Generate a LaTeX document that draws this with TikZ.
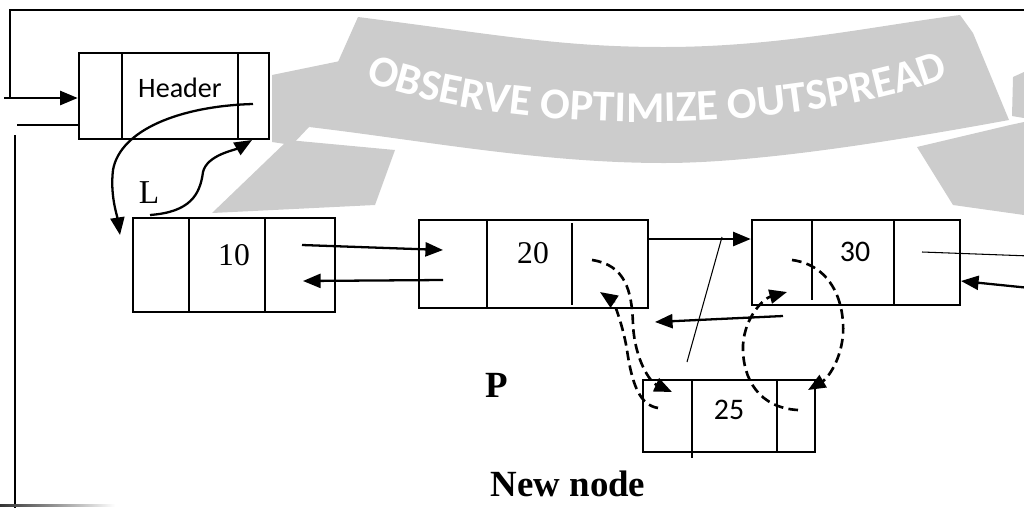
\documentclass[tikz,border=0pt]{standalone}
\usepackage{fontspec}
\setmainfont{Liberation Serif}
\newfontfamily\calib{Carlito}
\usetikzlibrary{arrows.meta,decorations.text}
\definecolor{wmgray}{HTML}{CCCCCC}

\begin{document}
\begin{tikzpicture}[x=0.02cm, y=-0.02cm, >={Triangle[length=10pt,width=8pt]},
  box/.style={draw, line width=1.5pt, fill=white, inner sep=0pt},
  div/.style={line width=0.6pt},
  ptr/.style={->, line width=1.3pt},
  dptr/.style={->, line width=1.5pt, dash pattern=on 5.5pt off 3pt},
  thinln/.style={line width=0.6pt},
  num/.style={font=\fontsize{18}{18}\selectfont},
  snum/.style={font=\calib\fontsize{17}{17}\selectfont},
  lbl/.style={font=\bfseries\fontsize{21}{21}\selectfont}]
  \useasboundingbox (0,0) rectangle (1024,508);

  % watermark banner
  \fill[wmgray] (272,75) -- (345,60) -- (309,127) -- (292,145) -- (272,142) -- cycle;
  \fill[wmgray] (288,140) -- (395,150) -- (375,205) -- (212,213) -- cycle;
  \fill[wmgray] (917,147) -- (1010,125) -- (1024,122) -- (1024,215) -- (953,205) -- cycle;
  \fill[wmgray] (1013,77) -- (1024,72) -- (1024,118) -- (1012,116) -- cycle;
  \fill[wmgray] (358,17) .. controls (500,35) and (560,47) .. (664,47)
    .. controls (780,47) and (880,25) .. (960,15) -- (973,33) -- (1009,120)
    .. controls (900,140) and (760,163) .. (664,163)
    .. controls (540,163) and (420,140) .. (309,127) -- cycle;
  \path[decorate, decoration={text along path, text align=center, text color=white,
    text={|\calib\bfseries\fontsize{25}{25}\selectfont|OBSERVE OPTIMIZE OUTSPREAD}}]
    (352,76) .. controls (500,138) and (800,138) .. (962,72);

  % nodes
  \node[box, minimum width=3.8cm, minimum height=1.72cm] (hdr) at (174,96) {};
  \draw[div] (122,53) -- (122,139);
  \draw[div] (238,53) -- (238,139);
  \node[font=\calib\fontsize{16}{16}\selectfont] (hdrtxt) at (180,88) {Header};

  \node[box, minimum width=4.04cm, minimum height=1.88cm] (b10) at (234,265) {};
  \draw[div] (189,218) -- (189,312);
  \draw[div] (265,218) -- (265,312);
  \node[num] (v10) at (234,255) {10};

  \node[box, minimum width=4.58cm, minimum height=1.76cm] (b20) at (533.5,264) {};
  \draw[div] (487,220) -- (487,308);
  \draw[div] (572,223) -- (572,305);
  \node[num] (v20) at (533,253) {20};

  \node[box, minimum width=4.16cm, minimum height=1.7cm] (b30) at (856,262.5) {};
  \draw[div] (812,220) -- (812,300);
  \draw[div] (894,220) -- (894,305);
  \node[snum] (v30) at (855,252) {30};

  \node[box, minimum width=3.44cm, minimum height=1.44cm] (b25) at (729,416) {};
  \draw[div] (692,380) -- (692,458);
  \draw[div] (777,380) -- (777,452);
  \node[snum] (v25) at (729,410) {25};

  % outer frame
  \coordinate (tl) at (10,10);
  \coordinate (tr) at (1024,10);
  \coordinate (lf) at (10,98);
  \coordinate (in) at (4,98);
  \draw[thinln] (tr) -- (tl) -- (lf);
  \draw[ptr] (in) -- (hdr.west |- in);
  \coordinate (ret) at (17,125);
  \draw[thinln] (ret) -- (ret -| hdr.west);
  \coordinate (lt) at (15,135);
  \coordinate (lb) at (15,508);
  \draw[thinln] (lt) -- (lb);
  \shade[left color=black!80, right color=white] (0,504) rectangle (115,506);

  % header links
  \coordinate (hn) at (253,104);
  \coordinate (l10) at (120,235);
  \draw[ptr] (hn) .. controls (180,106) and (120,130) .. (113,170)
    .. controls (110,195) and (117,215) .. (l10);
  \coordinate (lfrom) at (150,215);
  \coordinate (hp) at (252,140);
  \draw[ptr] (lfrom) .. controls (190,212) and (200,195) .. (203,172)
    .. controls (207,155) and (235,150) .. (hp);
  \node[font=\fontsize{19}{19}\selectfont] (lname) at (149,193) {L};

  % old links
  \coordinate (n10) at (302,245);
  \coordinate (p20) at (443,250);
  \draw[ptr] (n10) -- (p20);
  \coordinate (p20b) at (443,280);
  \coordinate (n10b) at (303,281);
  \draw[ptr] (p20b) -- (n10b);
  \coordinate (n20) at (649,239);
  \draw[ptr] (n20) -- (b30.west |- n20);
  \coordinate (p30) at (783,316);
  \coordinate (n20b) at (655,322);
  \draw[ptr] (p30) -- (n20b);
  \coordinate (xa) at (722,237);
  \coordinate (xb) at (687,362);
  \draw[thinln] (xa) -- (xb);
  \coordinate (n30) at (922,252);
  \coordinate (re) at (1030,256);
  \draw[thinln] (n30) -- (re);
  \coordinate (ri) at (1030,288);
  \coordinate (n30in) at (961,281);
  \draw[ptr] (ri) -- (n30in);

  % new links
  \coordinate (d1a) at (592,260);
  \coordinate (d1b) at (672,392);
  \draw[dptr] (d1a) .. controls (625,265) and (632,290) .. (633,325)
    .. controls (635,360) and (650,382) .. (d1b);
  \coordinate (d2a) at (658,408);
  \coordinate (d2b) at (600,292);
  \draw[dptr] (d2a) .. controls (640,405) and (632,385) .. (627,350)
    .. controls (622,320) and (612,300) .. (d2b);
  \coordinate (d3a) at (792,260);
  \coordinate (d3b) at (808,390);
  \draw[dptr] (d3a) .. controls (830,265) and (845,300) .. (843,335)
    .. controls (840,365) and (825,380) .. (d3b);
  \coordinate (d4a) at (798,410);
  \coordinate (d4b) at (787,292);
  \draw[dptr] (d4a) .. controls (760,408) and (742,380) .. (743,345)
    .. controls (745,315) and (765,298) .. (d4b);

  \node[lbl] (pname) at (497,385) {P};
  \node[lbl] (newname) at (568,484) {New node};
\end{tikzpicture}
\end{document}
